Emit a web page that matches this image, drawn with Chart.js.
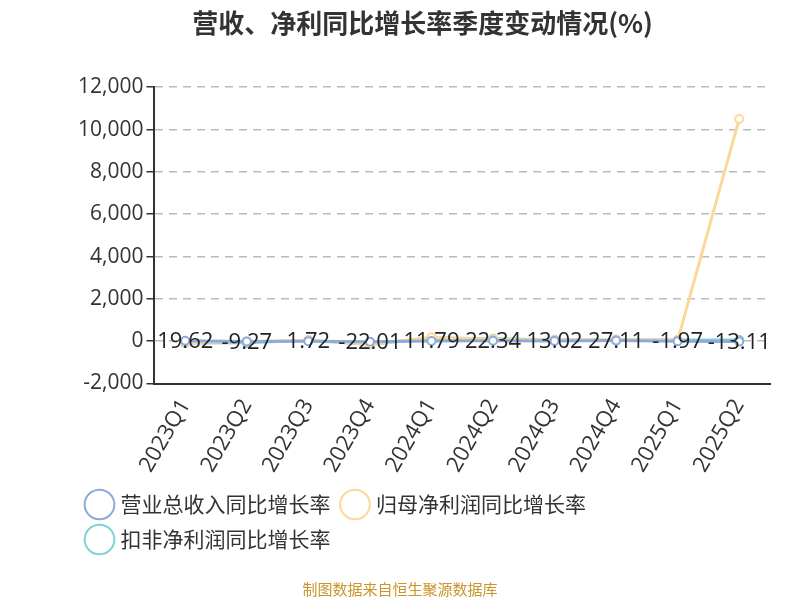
<!DOCTYPE html>
<html><head><meta charset="utf-8">
<script src="https://cdn.jsdelivr.net/npm/chart.js@4"></script>
<style>body{margin:0;background:#fff}#w{position:relative;width:800px;height:600px}
#src{position:absolute;left:0;width:800px;top:578px;text-align:center;font:15px "Noto Sans CJK SC";color:#c8962a}</style>
</head><body><div id="w"><canvas id="c" width="800" height="600"></canvas><div id="src">制图数据来自恒生聚源数据库</div></div>
<script>
const categories=['2023Q1','2023Q2','2023Q3','2023Q4','2024Q1','2024Q2','2024Q3','2024Q4','2025Q1','2025Q2'];
const revenue=[19.62,-9.27,1.72,-22.01,11.79,22.34,13.02,27.11,-1.97,-13.11];
const netProfit=[-60,-20,40,-140,180,90,60,80,40,10500];
const deducted=[-90,-80,40,-160,150,110,70,70,50,60];
const yTicks=[-2000,0,2000,4000,6000,8000,10000,12000];
const labelPlugin={id:'lbl',afterDatasetsDraw(ch){const m=ch.getDatasetMeta(0),ctx=ch.ctx;ctx.save();ctx.font='22px "Open Sans"';ctx.fillStyle='#222';ctx.textAlign='center';ctx.textBaseline='bottom';
m.data.forEach((p,i)=>{ctx.fillText(revenue[i].toFixed(2),p.x,p.y+12);});ctx.restore();}};
new Chart(document.getElementById('c'),{type:'line',
data:{labels:categories,datasets:[
{label:'营业总收入同比增长率',data:revenue,borderColor:'#8eaadb',backgroundColor:'#fff',borderWidth:3,pointRadius:4,pointBorderWidth:2},
{label:'归母净利润同比增长率',data:netProfit,borderColor:'#fdd79a',backgroundColor:'#fff',borderWidth:3,pointRadius:4,pointBorderWidth:2},
{label:'扣非净利润同比增长率',data:deducted,borderColor:'#7fd3d8',backgroundColor:'#fff',borderWidth:3,pointRadius:4,pointBorderWidth:2}]},
options:{responsive:false,animation:false,
layout:{padding:{left:75,right:30,top:8,bottom:40}},
plugins:{title:{display:true,text:'营收、净利同比增长率季度变动情况(%)',font:{size:26,weight:'bold',family:'"Noto Sans CJK SC"'},color:'#333',padding:{top:0,bottom:48}},
legend:{position:'bottom',align:'start',labels:{usePointStyle:true,pointStyle:'circle',boxWidth:22,boxHeight:22,font:{size:21,family:'"Noto Sans CJK SC"'},color:'#333',padding:14}},tooltip:{enabled:false}},
scales:{x:{offset:true,grid:{display:false,drawTicks:true},border:{color:'#333',width:2},ticks:{color:'#333',font:{size:22,family:'"Open Sans"'},maxRotation:60,minRotation:60}},
y:{min:-2000,max:12000,afterBuildTicks:a=>{a.ticks=yTicks.map(v=>({value:v}))},grid:{color:'#bbb',tickColor:'#333',tickLength:8,lineWidth:1.5},border:{color:'#333',width:2,dash:[8,6]},
ticks:{color:'#333',font:{size:21,family:'"Open Sans"'},callback:v=>v.toLocaleString('en-US')}}}},
plugins:[labelPlugin]});
</script></body></html>
